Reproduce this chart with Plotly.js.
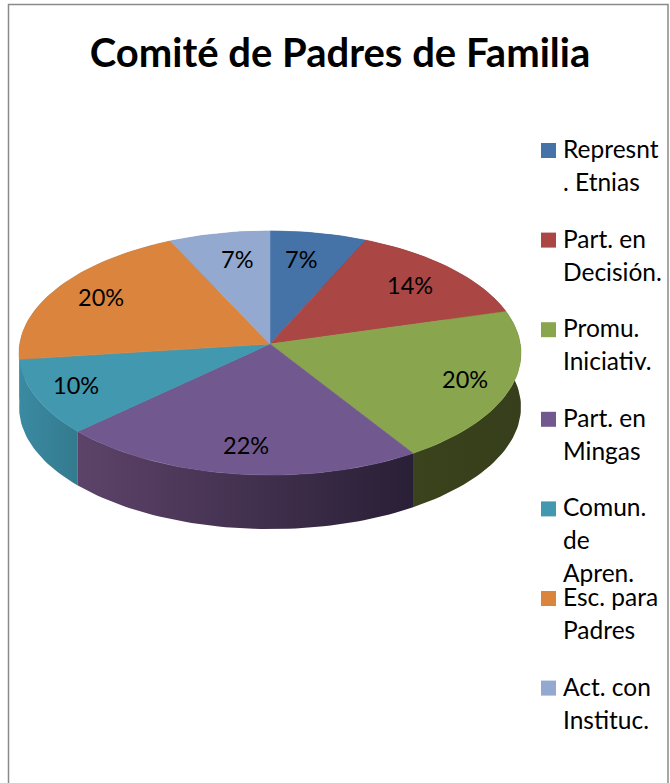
<!DOCTYPE html>
<html><head><meta charset="utf-8">
<script src="https://cdn.plot.ly/plotly-3.0.1.min.js"></script>
<style>html,body{margin:0;padding:0;background:#fff}</style></head>
<body><div id="chart" style="width:670px;height:783px"></div>
<script>
// ---- data ----
const categories = ["Represnt. Etnias","Part. en Decisión.","Promu. Iniciativ.","Part. en Mingas","Comun. de Apren.","Esc. para Padres","Act. con Instituc."];
const sliceValues = [6.7,13.9,20.4,22,10,20,7];
const legendLines = [["Represnt",". Etnias"],["Part. en","Decisión."],["Promu.","Iniciativ."],["Part. en","Mingas"],["Comun.","de","Apren."],["Esc. para","Padres"],["Act. con","Instituc."]];
const titleText = "Comité de Padres de Familia";

// ---- styles ----
const topColors = ["#4572A7","#AA4643","#89A54E","#71588F","#4198AF","#DB843D","#93A9CF"];
const wallGradients = [
  ["#2c4a6e","#2c4a6e"],["#5c2625","#5c2625"],["#3a431c","#363e1b"],
  ["#5d4369","#291f36"],["#3a8aa2","#347a8e"],["#3a8aa2","#3a8aa2"],["#6a7fa0","#6a7fa0"]];
const FONT = "Lato, Carlito, Calibri, sans-serif";

// ---- projection of the tilted pie ----
const CX=270, CY=344, R=250.3, K=121.4, P=0.0738, DEPTH=54;
function project(deg,r){
  const t=deg*Math.PI/180, w=1+P*Math.cos(t)*r;
  return [CX+R*r*Math.sin(t)/w, CY-K*r*Math.cos(t)/w];
}
function arc(a0,a1){
  const n=Math.max(2,Math.ceil(Math.abs(a1-a0)/1.5)), pts=[];
  for(let i=0;i<=n;i++) pts.push(project(a0+(a1-a0)*i/n,1));
  return pts;
}
const total=sliceValues.reduce((a,b)=>a+b,0);
let cum=0;
const bounds=sliceValues.map(v=>{const a=cum/total*360; cum+=v; return [a,cum/total*360];});
const percentText=sliceValues.map(v=>Math.round(v/total*100)+"%");

const walls=[], tops=[];
bounds.forEach(([a0,a1],i)=>{
  const edge=arc(a0,a1);
  const low=edge.map(p=>[p[0],p[1]+DEPTH]).reverse();
  const ring=edge.concat(low,[edge[0]]);
  walls.push({type:"scatter",mode:"lines",x:ring.map(p=>p[0]),y:ring.map(p=>p[1]),
    fill:"toself",line:{width:0,color:wallGradients[i][0]},
    fillcolor:wallGradients[i][0],
    fillgradient:{type:"horizontal",colorscale:[[0,wallGradients[i][0]],[1,wallGradients[i][1]]]},
    hoverinfo:"skip",showlegend:false});
  const face=[[CX,CY]].concat(edge,[[CX,CY]]);
  tops.push({type:"scatter",mode:"lines",name:categories[i],x:face.map(p=>p[0]),y:face.map(p=>p[1]),
    fill:"toself",fillcolor:topColors[i],line:{width:0.6,color:topColors[i]},
    text:percentText[i],hoverinfo:"name+text",showlegend:false});
});
// walls at the front must sit over walls at the back
const wallOrder=[0,1,5,6,2,4,3].map(i=>walls[i]);

// ---- layout placement ----
const labelPos=[[301,259],[410,285],[465,379],[246,445],[76,385],[101,297],[237,259]];
const legendTop=150.5, legendStep=89.6, lineStep=33, keyX=548.5, textX=561;

const legendKeys={type:"scatter",mode:"markers",
  x:categories.map(()=>keyX),y:categories.map((c,i)=>legendTop+i*legendStep),
  marker:{symbol:"square",size:15,color:topColors,line:{width:0}},hoverinfo:"skip",showlegend:false};

const annotations=[];
percentText.forEach((s,i)=>annotations.push({x:labelPos[i][0],y:labelPos[i][1],text:s,showarrow:false,
  xanchor:"center",yanchor:"middle",font:{family:FONT,size:23.5,color:"#000"}}));
legendLines.forEach((lines,i)=>lines.forEach((s,j)=>annotations.push({
  x:textX,y:legendTop+i*legendStep+j*lineStep-2,text:s,showarrow:false,xanchor:"left",yanchor:"middle",
  font:{family:FONT,size:24.5,color:"#000"}})));

const layout={
  width:670,height:783,margin:{l:0,r:0,t:0,b:0},paper_bgcolor:"#fff",plot_bgcolor:"#fff",showlegend:false,
  title:{text:"<b>"+titleText+"</b>",x:340/670,xanchor:"center",y:1-53/783,yanchor:"middle",font:{family:FONT,size:40,color:"#000"}},
  xaxis:{range:[0,670],visible:false,fixedrange:true},
  yaxis:{range:[783,0],visible:false,fixedrange:true},
  shapes:[{type:"rect",xref:"x",yref:"y",x0:8.5,y0:4.5,x1:668,y1:800,line:{color:"#8a8a8a",width:1.5},layer:"below"}],
  annotations
};
Plotly.newPlot("chart",wallOrder.concat(tops,[legendKeys]),layout,{displayModeBar:false,staticPlot:true});
</script></body></html>
